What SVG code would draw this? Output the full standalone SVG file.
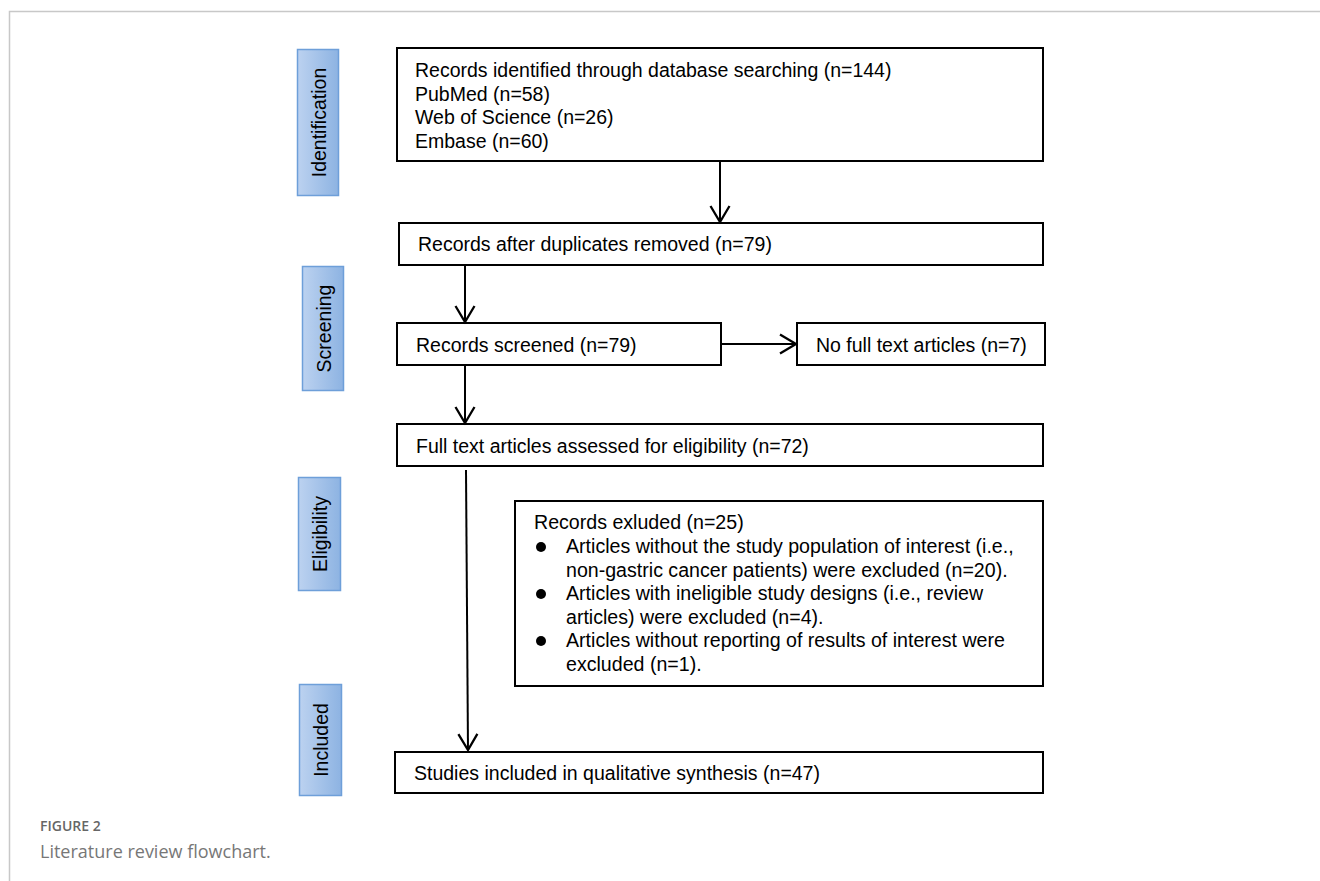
<svg xmlns="http://www.w3.org/2000/svg" width="1320" height="881" viewBox="0 0 1320 881">
<style>
.box{fill:#fff;stroke:#000;stroke-width:2}
.t{font-family:"Liberation Sans",Arial,sans-serif;font-size:19.5px;fill:#000}
.te{font-family:"Liberation Sans",Arial,sans-serif;font-size:19.6px;fill:#000}
.lab{fill:url(#g);stroke:#6e9fd9;stroke-width:1.5}
.lt{font-family:"Liberation Sans",Arial,sans-serif;font-size:19.5px;fill:#000;text-anchor:middle}
.c{stroke:#000;stroke-width:2;fill:none}
.cap1{font-family:"Open Sans","Noto Sans",sans-serif;font-size:14px;font-weight:600;fill:#666}
.cap2{font-family:"Open Sans","Noto Sans",sans-serif;font-size:18px;fill:#777}
</style>
<defs>
<linearGradient id="g" x1="0" y1="0" x2="1" y2="0">
<stop offset="0" stop-color="#bcd2f0"/>
<stop offset="1" stop-color="#8db3e2"/>
</linearGradient>
<marker id="ah" viewBox="0 0 24 24" refX="19" refY="12" markerWidth="24" markerHeight="24" markerUnits="userSpaceOnUse" orient="auto">
<path d="M3,2.5 L19,12 L3,21.5" fill="none" stroke="#000" stroke-width="2.3"/>
</marker>
</defs>
<rect width="1320" height="881" fill="#fff"/>
<path d="M9.5,881 V11.5 H1320" fill="none" stroke="#c8c8c8" stroke-width="1.5"/>

<g id="label-identification"><rect class="lab" x="297.5" y="49.5" width="41" height="146"/><text class="lt" transform="translate(325.5,122.5) rotate(-90)">Identification</text></g>
<g id="label-screening"><rect class="lab" x="302.5" y="266.5" width="41" height="124"/><text class="lt" transform="translate(330.5,328.5) rotate(-90)">Screening</text></g>
<g id="label-eligibility"><rect class="lab" x="298.5" y="477.5" width="42" height="113"/><text class="lt" transform="translate(327,534) rotate(-90)">Eligibility</text></g>
<g id="label-included"><rect class="lab" x="299.5" y="684.5" width="42" height="111"/><text class="lt" transform="translate(328,740) rotate(-90)">Included</text></g>

<g id="n-identified"><rect class="box" x="397" y="48" width="646" height="113"/>
<text class="t" x="415" y="77">Records identified through database searching (n=144)</text>
<text class="t" x="415" y="100.5">PubMed (n=58)</text>
<text class="t" x="415" y="124">Web of Science (n=26)</text>
<text class="t" x="415" y="147.5">Embase (n=60)</text></g>
<g id="n-duplicates"><rect class="box" x="399" y="223" width="644" height="42"/><text class="t" x="418" y="251">Records after duplicates removed (n=79)</text></g>
<g id="n-screened"><rect class="box" x="397" y="323" width="324" height="42"/><text class="t" x="416" y="351.5">Records screened (n=79)</text></g>
<g id="n-nofull"><rect class="box" x="797" y="323" width="248" height="42"/><text class="t" x="816" y="351.5">No full text articles (n=7)</text></g>
<g id="n-fulltext"><rect class="box" x="397" y="424" width="646" height="42"/><text class="t" x="416" y="452.5">Full text articles assessed for eligibility (n=72)</text></g>
<g id="n-excluded"><rect class="box" x="515" y="501" width="528" height="185"/>
<text class="te" x="534" y="529">Records exluded (n=25)</text>
<circle cx="541" cy="547" r="5"/><circle cx="541" cy="594" r="5"/><circle cx="541" cy="641" r="5"/>
<text class="te" x="566" y="553">Articles without the study population of interest (i.e.,</text>
<text class="te" x="566" y="576.5">non-gastric cancer patients) were excluded (n=20).</text>
<text class="te" x="566" y="600">Articles with ineligible study designs (i.e., review</text>
<text class="te" x="566" y="623.5">articles) were excluded (n=4).</text>
<text class="te" x="566" y="647">Articles without reporting of results of interest were</text>
<text class="te" x="566" y="670.5">excluded (n=1).</text></g>
<g id="n-included"><rect class="box" x="395" y="752" width="648" height="41"/><text class="t" x="414" y="779.5">Studies included in qualitative synthesis (n=47)</text></g>

<g id="connectors">
<line class="c" x1="720" y1="161" x2="720" y2="222" marker-end="url(#ah)"/>
<line class="c" x1="465" y1="265" x2="465" y2="322" marker-end="url(#ah)"/>
<line class="c" x1="722" y1="344" x2="796" y2="344" marker-end="url(#ah)"/>
<line class="c" x1="465" y1="365" x2="465" y2="423" marker-end="url(#ah)"/>
<line class="c" x1="466" y1="470" x2="468" y2="750" marker-end="url(#ah)"/>
</g>

<text class="cap1" x="40" y="831">FIGURE 2</text>
<text class="cap2" x="40" y="858">Literature review flowchart.</text>
</svg>
